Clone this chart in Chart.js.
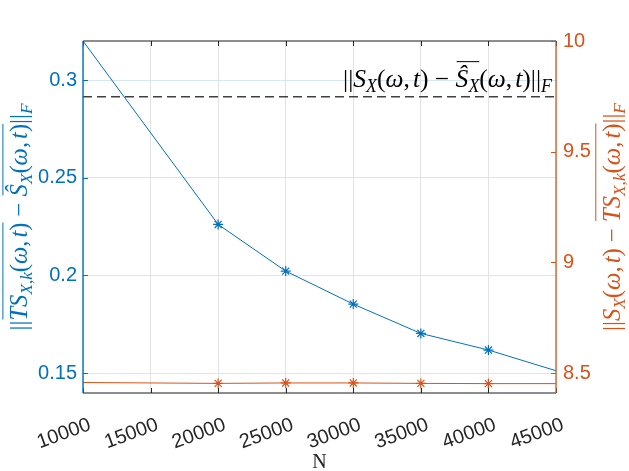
<!DOCTYPE html>
<html><head><meta charset="utf-8">
<script src="https://cdn.jsdelivr.net/npm/chart.js@4"></script>
<style>html,body{margin:0;padding:0;background:#fff}#wrap{width:629px;height:471px;position:relative}</style>
</head><body><div id="wrap"><canvas id="c"></canvas></div>
<script>
// ---- data ----
const sampleSizes = [10000, 20000, 25000, 30000, 35000, 40000, 45000];
const averagedError = [0.32, 0.2261, 0.2022, 0.1853, 0.1703, 0.1618, 0.1512];   // left axis
const trueError = [8.457, 8.453, 8.455, 8.455, 8.453, 8.452, 8.452];            // right axis
const referenceError = 0.2915;                                                  // dashed line (left axis)
const xTicks = [10000, 15000, 20000, 25000, 30000, 35000, 40000, 45000];
const xTickLabels = ['10000', '15000', '20000', '25000', '30000', '35000', '40000', '45000'];
const leftTicks = [0.15, 0.2, 0.25, 0.3];
const leftTickLabels = ['0.15', '0.2', '0.25', '0.3'];
const rightTicks = [8.5, 9, 9.5, 10];
const rightTickLabels = ['8.5', '9', '9.5', '10'];
const xRange = [10000, 45000];
const leftRange = [0.1398, 0.32];
const rightRange = [8.4096, 10];
const xTitle = 'N';

const BLUE = '#0072BD', ORANGE = '#D95319';

// ---- math text helpers ----
// part: [text, italic, sub, overlineGroup]
const leftLabel = [['||',0,0,0],['T',1,0,1],['S',1,0,1],['X',1,1,1],[',',0,1,1],['k',1,1,1],['(',0,0,1],['ω',1,0,1],[',',0,0,1],['t',1,0,1],[')',0,0,1],
  [' − ',0,0,0],['Ŝ',1,0,2],['X',1,1,2],['(',0,0,2],['ω',1,0,2],[',',0,0,2],['t',1,0,2],[')',0,0,2],['||',0,0,0],['F',1,1,0]];
const rightLabel = [['||',0,0,0],['S',1,0,0],['X',1,1,0],['(',0,0,0],['ω',1,0,0],[',',0,0,0],['t',1,0,0],[')',0,0,0],
  [' − ',0,0,0],['T',1,0,1],['S',1,0,1],['X',1,1,1],[',',0,1,1],['k',1,1,1],['(',0,0,1],['ω',1,0,1],[',',0,0,1],['t',1,0,1],[')',0,0,1],['||',0,0,0],['F',1,1,0]];
const annotLabel = [['||',0,0,0],['S',1,0,0],['X',1,1,0],['(',0,0,0],['ω',1,0,0],[',',0,0,0],['t',1,0,0],[')',0,0,0],
  [' − ',0,0,0],['Ŝ',1,0,1],['X',1,1,1],['(',0,0,0],['ω',1,0,0],[',',0,0,0],['t',1,0,0],[')',0,0,0],['||',0,0,0],['F',1,1,0]];

function layoutMath(ctx, parts, size) {
  let x = 0; const items = [];
  for (const p of parts) {
    const fs = p[2] ? size * 0.7 : size;
    const font = (p[1] ? 'italic ' : '') + fs + 'px "Liberation Serif"';
    ctx.font = font;
    const w = ctx.measureText(p[0]).width;
    items.push({t: p[0], font, x, w, sub: p[2], g: p[3]});
    x += w;
    if (p[0] === ',' && !p[2]) x += size * 0.12;
  }
  return {items, width: x};
}
function drawMath(ctx, parts, targetWidth, color) {
  let L = layoutMath(ctx, parts, 22);
  const size = 22 * targetWidth / L.width;
  L = layoutMath(ctx, parts, size);
  ctx.fillStyle = color; ctx.strokeStyle = color; ctx.textBaseline = 'alphabetic'; ctx.textAlign = 'left';
  const x0 = -L.width / 2;
  for (const it of L.items) {
    ctx.font = it.font;
    ctx.fillText(it.t, x0 + it.x, it.sub ? size * 0.2 : 0);
  }
  const groups = {};
  for (const it of L.items) if (it.g) {
    const g = groups[it.g] || (groups[it.g] = {a: Infinity, b: -Infinity});
    g.a = Math.min(g.a, it.x); g.b = Math.max(g.b, it.x + it.w);
  }
  ctx.lineWidth = 1;
  for (const k in groups) {
    ctx.beginPath();
    ctx.moveTo(x0 + groups[k].a + 1, -size * 0.98);
    ctx.lineTo(x0 + groups[k].b, -size * 0.98);
    ctx.stroke();
  }
}

const framePlugin = {
  id: 'frame',
  afterDatasetsDraw(chart) {
    const {ctx, chartArea: a, scales} = chart;
    ctx.save();
    ctx.strokeStyle = 'rgba(38,38,38,0.7)'; ctx.lineWidth = 1.5;
    ctx.beginPath(); ctx.moveTo(a.left, a.top); ctx.lineTo(a.right, a.top);
    ctx.moveTo(a.left, a.bottom); ctx.lineTo(a.right, a.bottom); ctx.stroke();
    ctx.strokeStyle = '#262626'; ctx.lineWidth = 1;
    for (const v of xTicks) {
      const px = Math.round(scales.x.getPixelForValue(v)) + 0.5;
      ctx.beginPath(); ctx.moveTo(px, a.bottom); ctx.lineTo(px, a.bottom - 5);
      ctx.moveTo(px, a.top); ctx.lineTo(px, a.top + 5); ctx.stroke();
    }
    ctx.strokeStyle = 'rgba(0,114,189,0.7)'; ctx.lineWidth = 2;
    ctx.beginPath(); ctx.moveTo(a.left, a.top); ctx.lineTo(a.left, a.bottom); ctx.stroke();
    ctx.strokeStyle = BLUE; ctx.lineWidth = 1;
    for (const v of leftTicks) {
      const py = Math.round(scales.yL.getPixelForValue(v)) + 0.5;
      ctx.beginPath(); ctx.moveTo(a.left, py); ctx.lineTo(a.left + 5, py); ctx.stroke();
    }
    ctx.strokeStyle = 'rgba(217,83,25,0.65)'; ctx.lineWidth = 2;
    ctx.beginPath(); ctx.moveTo(a.right, a.top); ctx.lineTo(a.right, a.bottom); ctx.stroke();
    ctx.strokeStyle = ORANGE; ctx.lineWidth = 1;
    for (const v of rightTicks) {
      const py = Math.round(scales.yR.getPixelForValue(v)) + 0.5;
      ctx.beginPath(); ctx.moveTo(a.right, py); ctx.lineTo(a.right - 5, py); ctx.stroke();
    }
    ctx.restore();
  },
  afterDraw(chart) {
    const {ctx, chartArea: a, scales} = chart;
    const cy = (a.top + a.bottom) / 2;
    ctx.save();
    ctx.translate(27, cy); ctx.rotate(-Math.PI / 2);
    drawMath(ctx, leftLabel, 227, BLUE);
    ctx.restore();
    ctx.save();
    ctx.translate(620, cy); ctx.rotate(-Math.PI / 2);
    drawMath(ctx, rightLabel, 228, ORANGE);
    ctx.restore();
    ctx.save();
    const ay = scales.yL.getPixelForValue(referenceError) - 10;
    ctx.translate(a.right - 4 - 209 / 2, ay);
    drawMath(ctx, annotLabel, 209, '#000');
    ctx.restore();
    ctx.save();
    ctx.fillStyle = '#262626'; ctx.font = '20px "Liberation Serif"'; ctx.textAlign = 'center'; ctx.textBaseline = 'alphabetic';
    ctx.fillText(xTitle, (a.left + a.right) / 2, 468);
    ctx.restore();
  }
};

const pts = (ys) => sampleSizes.map((x, i) => ({x, y: ys[i]}));
const markerRadii = sampleSizes.map((x) => (x === xRange[0] || x === xRange[1]) ? 0 : 5);

new Chart(document.getElementById('c'), {
  type: 'line',
  data: {
    datasets: [
      {data: pts(averagedError), yAxisID: 'yL', borderColor: BLUE, backgroundColor: BLUE, borderWidth: 1,
       pointStyle: 'star', pointRadius: markerRadii, pointBorderWidth: 1.2, pointBorderColor: BLUE, fill: false, tension: 0},
      {data: pts(trueError), yAxisID: 'yR', borderColor: ORANGE, backgroundColor: ORANGE, borderWidth: 1,
       pointStyle: 'star', pointRadius: markerRadii, pointBorderWidth: 1.2, pointBorderColor: ORANGE, fill: false, tension: 0},
      {data: [{x: xRange[0], y: referenceError}, {x: xRange[1], y: referenceError}], yAxisID: 'yL',
       borderColor: '#404040', borderWidth: 1.5, borderDash: [9, 5], pointRadius: 0, fill: false}
    ]
  },
  options: {
    responsive: true, maintainAspectRatio: false, animation: false, devicePixelRatio: 1,
    layout: {padding: {top: 41, left: 0, right: 0, bottom: 0}},
    plugins: {legend: {display: false}, tooltip: {enabled: false}},
    scales: {
      x: {type: 'linear', position: 'bottom', min: xRange[0], max: xRange[1],
          afterBuildTicks: (s) => { s.ticks = xTicks.map(v => ({value: v})); },
          afterFit: (s) => { s.height = 78; },
          ticks: {autoSkip: false, minRotation: 20, maxRotation: 20, color: '#262626', padding: 20, labelOffset: 7,
                  font: {family: 'Liberation Sans', size: 20}, callback: (v, i) => xTickLabels[i]},
          grid: {color: '#e2e2e2', drawTicks: false}, border: {display: false}},
      yL: {type: 'linear', position: 'left', min: leftRange[0], max: leftRange[1],
          afterBuildTicks: (s) => { s.ticks = leftTicks.map(v => ({value: v})); },
          afterFit: (s) => { s.width = 83; },
          ticks: {color: BLUE, padding: 6, font: {family: 'Liberation Sans', size: 20}, callback: (v, i) => leftTickLabels[i]},
          grid: {color: '#d6e7f4', drawTicks: false}, border: {display: false}},
      yR: {type: 'linear', position: 'right', min: rightRange[0], max: rightRange[1],
          afterBuildTicks: (s) => { s.ticks = rightTicks.map(v => ({value: v})); },
          afterFit: (s) => { s.width = 73; },
          ticks: {color: ORANGE, padding: 7, font: {family: 'Liberation Sans', size: 20}, callback: (v, i) => rightTickLabels[i]},
          grid: {display: false, drawTicks: false}, border: {display: false}}
    }
  },
  plugins: [framePlugin]
});
</script>
</body></html>
